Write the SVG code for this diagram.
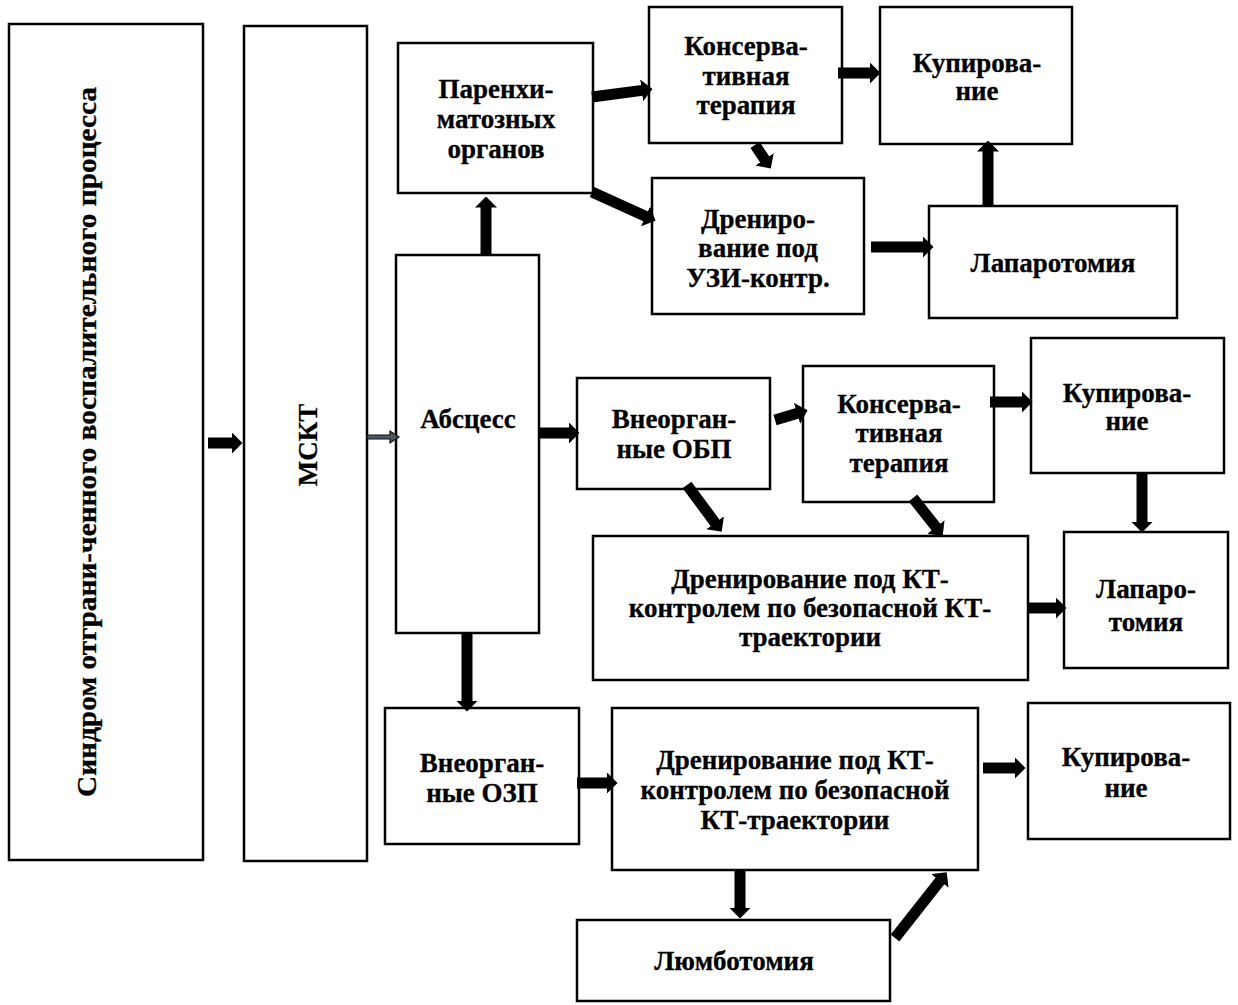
<svg xmlns="http://www.w3.org/2000/svg" width="1238" height="1005" viewBox="0 0 1238 1005">
<defs>
<style>
.box{fill:#fff;stroke:#000;stroke-width:2.5}
.t{font-family:"Liberation Serif","Times New Roman",serif;font-weight:bold;font-size:27px;fill:#000;stroke:#000;stroke-width:0.3;text-anchor:middle}
.a{stroke:#000;stroke-width:11;fill:none;marker-end:url(#head)}
</style>
<marker id="head" viewBox="0 0 11 22" markerWidth="1" markerHeight="2" refX="0.5" refY="11" orient="auto" markerUnits="strokeWidth">
<path d="M0,0 L11,11 L0,22 z" fill="#000"/>
</marker>
</defs>
<rect width="1238" height="1005" fill="#fff"/>

<g id="n-syndrome">
<rect class="box" x="9" y="24" width="194" height="836"/>
<text class="t" x="96" y="442" font-size="33" textLength="710" lengthAdjust="spacingAndGlyphs" transform="rotate(-90 96 442)">Синдром отграни-ченного воспалительного процесса</text>
</g>
<g id="n-msct">
<rect class="box" x="244" y="26" width="123" height="835"/>
<text class="t" x="317" y="445" font-size="27" transform="rotate(-90 317 445)">МСКТ</text>
</g>
<g id="n-parench">
<rect class="box" x="398" y="43" width="195" height="150"/>
<text class="t" x="496" y="98">Паренхи-</text>
<text class="t" x="496" y="128">матозных</text>
<text class="t" x="496" y="158">органов</text>
</g>
<g id="n-abscess">
<rect class="box" x="396" y="255" width="143" height="378"/>
<text class="t" x="468" y="428">Абсцесс</text>
</g>
<g id="n-cons1">
<rect class="box" x="649" y="7" width="193" height="136"/>
<text class="t" x="746" y="55">Консерва-</text>
<text class="t" x="746" y="85">тивная</text>
<text class="t" x="746" y="114">терапия</text>
</g>
<g id="n-kup1">
<rect class="box" x="880" y="7" width="192" height="137"/>
<text class="t" x="977" y="72">Купирова-</text>
<text class="t" x="977" y="100">ние</text>
</g>
<g id="n-dren1">
<rect class="box" x="652" y="178" width="212" height="136"/>
<text class="t" x="758" y="228">Дрениро-</text>
<text class="t" x="758" y="257">вание под</text>
<text class="t" x="758" y="287">УЗИ-контр.</text>
</g>
<g id="n-lap1">
<rect class="box" x="929" y="206" width="248" height="112"/>
<text class="t" x="1053" y="272">Лапаротомия</text>
</g>
<g id="n-obp">
<rect class="box" x="577" y="378" width="193" height="111"/>
<text class="t" x="674" y="428">Внеорган-</text>
<text class="t" x="674" y="458">ные ОБП</text>
</g>
<g id="n-cons2">
<rect class="box" x="803" y="366" width="191" height="136"/>
<text class="t" x="899" y="413">Консерва-</text>
<text class="t" x="899" y="442">тивная</text>
<text class="t" x="899" y="472">терапия</text>
</g>
<g id="n-kup2">
<rect class="box" x="1031" y="338" width="193" height="135"/>
<text class="t" x="1127" y="402">Купирова-</text>
<text class="t" x="1127" y="430">ние</text>
</g>
<g id="n-drenkt1">
<rect class="box" x="593" y="536" width="435" height="144"/>
<text class="t" x="810" y="588">Дренирование под КТ-</text>
<text class="t" x="810" y="617">контролем по безопасной КТ-</text>
<text class="t" x="810" y="646">траектории</text>
</g>
<g id="n-lap2">
<rect class="box" x="1064" y="532" width="164" height="136"/>
<text class="t" x="1146" y="598">Лапаро-</text>
<text class="t" x="1146" y="631">томия</text>
</g>
<g id="n-ozp">
<rect class="box" x="385" y="708" width="194" height="136"/>
<text class="t" x="482" y="772">Внеорган-</text>
<text class="t" x="482" y="802">ные ОЗП</text>
</g>
<g id="n-drenkt2">
<rect class="box" x="612" y="708" width="366" height="162"/>
<text class="t" x="795" y="769">Дренирование под КТ-</text>
<text class="t" x="795" y="799">контролем по безопасной</text>
<text class="t" x="795" y="829">КТ-траектории</text>
</g>
<g id="n-kup3">
<rect class="box" x="1028" y="703" width="202" height="136"/>
<text class="t" x="1126" y="766">Купирова-</text>
<text class="t" x="1126" y="797">ние</text>
</g>
<g id="n-lumbo">
<rect class="box" x="577" y="920" width="313" height="81"/>
<text class="t" x="734" y="970">Люмботомия</text>
</g>

<g id="connectors">
<line class="a" x1="208" y1="443" x2="232" y2="443"/>
<polygon points="367,435 390,435 390,431 399,437 390,443 390,439 367,439" fill="#4a5866" stroke="#111" stroke-width="1.2"/>
<line class="a" x1="539" y1="433" x2="569" y2="433"/>
<line class="a" x1="486" y1="255" x2="486" y2="207"/>
<line class="a" x1="592" y1="97" x2="642.1" y2="90.4"/>
<line class="a" x1="592" y1="192" x2="646" y2="216.5"/>
<line class="a" x1="755" y1="145" x2="764.9" y2="159.8"/>
<line class="a" x1="838" y1="73" x2="870" y2="73"/>
<line class="a" x1="871" y1="247" x2="923" y2="247"/>
<line class="a" x1="988" y1="206" x2="988" y2="151"/>
<line class="a" x1="775" y1="420" x2="797.5" y2="413.2"/>
<line class="a" x1="687" y1="485" x2="715.4" y2="523.2"/>
<line class="a" x1="990" y1="402" x2="1022" y2="402"/>
<line class="a" x1="913" y1="498" x2="936.2" y2="527.4"/>
<line class="a" x1="1142" y1="473" x2="1142" y2="522"/>
<line class="a" x1="1028" y1="608" x2="1056" y2="608"/>
<line class="a" x1="467" y1="633" x2="467" y2="701"/>
<line class="a" x1="577" y1="783" x2="607" y2="783"/>
<line class="a" x1="983" y1="768" x2="1015" y2="768"/>
<line class="a" x1="740" y1="870" x2="740" y2="908"/>
<line class="a" x1="895" y1="938" x2="940.2" y2="880.6"/>
</g>
</svg>
